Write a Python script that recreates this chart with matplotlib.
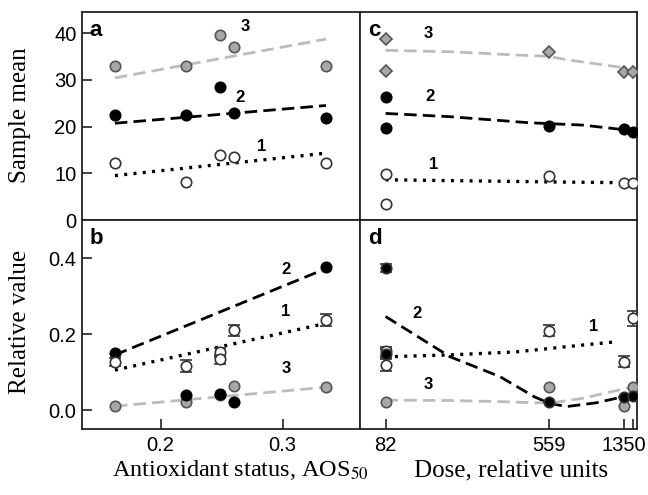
import matplotlib
matplotlib.use("Agg")
import matplotlib.pyplot as plt
from matplotlib.ticker import FixedLocator, NullLocator

# ---------------- data ----------------
aos = [0.1625, 0.2207, 0.2486, 0.260, 0.3355]
aos_fit = [0.1625, 0.3355]

# panel a (sample mean vs antioxidant status)
a_s3 = [33.0, 33.0, 39.6, 37.0, 33.0]
a_s2 = [22.5, 22.5, 28.5, 22.9, 21.8]
a_s1 = [12.1, 8.1, 13.8, 13.5, 12.1]
a_fit3 = [30.4, 38.7]
a_fit2 = [20.7, 24.5]
a_fit1 = [9.5, 14.3]

# panel b (relative value vs antioxidant status)
b_s2 = [0.149, 0.039, 0.041, 0.022, 0.377]
b_s1_x = [0.1625, 0.2207, 0.2486, 0.2486, 0.260, 0.3355]
b_s1 = [0.127, 0.116, 0.152, 0.133, 0.210, 0.237]
b_s1_err = [0.010, 0.015, 0.012, 0.012, 0.015, 0.015]
b_s3 = [0.011, 0.022, 0.040, 0.062, 0.060]
b_fit2 = [0.145, 0.372]
b_fit1 = [0.105, 0.228]
b_fit3 = [0.010, 0.060]

# panel c (sample mean vs dose)
dose_pts = [82, 82, 559, 1350, 1500]
c_s3 = [38.7, 31.8, 36.0, 31.6, 31.6]
c_s2 = [26.4, 19.6, 20.2, 19.4, 18.9]
c_s1 = [9.9, 3.4, 9.5, 7.9, 7.9]
c_curve3_dose = [82, 175, 382, 560, 687, 1016, 1390]
c_curve3 = [36.3, 36.0, 35.3, 35.0, 34.3, 33.3, 32.5]
c_curve2_dose = [82, 175, 446, 835, 1500]
c_curve2 = [22.8, 22.1, 20.8, 20.3, 19.1]
c_curve1_dose = [82, 300, 700, 1250]
c_curve1 = [8.6, 8.3, 8.1, 8.0]

# panel d (relative value vs dose)
d_s2 = [0.373, 0.148, 0.020, 0.035, 0.037]
d_s2_err = [0.010, 0.012, 0.0, 0.0, 0.0]
d_s1 = [0.155, 0.118, 0.209, 0.127, 0.241]
d_s1_err = [0.012, 0.015, 0.015, 0.015, 0.020]
d_s3_dose = [82, 559, 1350, 1500]
d_s3 = [0.022, 0.061, 0.011, 0.061]
d_curve2_dose = [82, 175, 314, 470, 559, 687, 978, 1237, 1445]
d_curve2 = [0.246, 0.140, 0.088, 0.035, 0.018, 0.009, 0.019, 0.031, 0.042]
d_curve1_dose = [82, 175, 382, 565, 835, 1262]
d_curve1 = [0.140, 0.145, 0.153, 0.162, 0.171, 0.180]
d_curve3_dose = [82, 175, 314, 565, 835, 1500]
d_curve3 = [0.026, 0.025, 0.022, 0.018, 0.031, 0.061]

dose_ticks = [82, 559, 1350, 1500]
dose_ticklabels = ["82", "559", "1350", ""]

# ---------------- style ----------------
SANS = "Liberation Sans"
SERIF = "Liberation Serif"
plt.rcParams["font.family"] = SANS

GRAY_LINE = "#bcbcbc"
GRAY_FILL = "#a8a8a8"
EDGE = "#333333"
DOT = (0, (0.9, 1.9))
DASH = (0, (4.5, 2.2))

W, H = 648, 495
fig = plt.figure(figsize=(W / 100, H / 100), dpi=100)


def px_axes(x0, y0, x1, y1):
    return fig.add_axes([x0 / W, 1 - y1 / H, (x1 - x0) / W, (y1 - y0) / H])


ax_a = px_axes(82, 12, 360, 220)
ax_b = px_axes(82, 220, 360, 429)
ax_c = px_axes(360, 12, 637, 220)
ax_d = px_axes(360, 220, 637, 429)

for ax in (ax_a, ax_b, ax_c, ax_d):
    for sp in ax.spines.values():
        sp.set_linewidth(1.3)
        sp.set_color("#222222")
    ax.tick_params(direction="in", length=7, width=1.2, labelsize=14.5,
                   color="#222222", pad=4)

mk = dict(ms=7.5, mew=1.2, linestyle="none", zorder=4)


def pts(ax, x, y, kind, marker="o", ms=7.5):
    kw = dict(mk)
    kw["ms"] = ms
    if kind == 1:
        ax.plot(x, y, marker=marker, mfc="white", mec=EDGE, **kw)
    elif kind == 2:
        ax.plot(x, y, marker=marker, mfc="black", mec="black", **kw)
    else:
        ax.plot(x, y, marker=marker, mfc=GRAY_FILL, mec="#555555", **kw)


def err(ax, x, y, e, fill):
    ax.errorbar(x, y, yerr=e, fmt="o", ms=7.5, mfc=fill, mec=EDGE, mew=1.2,
                ecolor=EDGE, elinewidth=1.2, capsize=4, capthick=1.5, zorder=4)


def lab(ax, x, y, s):
    ax.text(x, y, s, fontsize=12, fontweight="bold", ha="center", va="center")


# ---------- panel a ----------
ax_a.plot(aos_fit, a_fit3, color=GRAY_LINE, lw=2.0, ls=DASH, zorder=2)
ax_a.plot(aos_fit, a_fit2, color="black", lw=2.0, ls=DASH, zorder=2)
ax_a.plot(aos_fit, a_fit1, color="black", lw=2.4, ls=DOT, zorder=2)
pts(ax_a, aos, a_s3, 3)
pts(ax_a, aos, a_s2, 2)
pts(ax_a, aos, a_s1, 1)
ax_a.set_xlim(0.1355, 0.3634)
ax_a.set_ylim(0, 44.5)
ax_a.yaxis.set_major_locator(FixedLocator([0, 10, 20, 30, 40]))
ax_a.xaxis.set_major_locator(NullLocator())
lab(ax_a, 0.269, 41.3, "3")
lab(ax_a, 0.265, 26.3, "2")
lab(ax_a, 0.283, 15.7, "1")

# ---------- panel b ----------
ax_b.plot(aos_fit, b_fit2, color="black", lw=2.0, ls=DASH, zorder=2)
ax_b.plot(aos_fit, b_fit1, color="black", lw=2.4, ls=DOT, zorder=2)
ax_b.plot(aos_fit, b_fit3, color=GRAY_LINE, lw=2.0, ls=DASH, zorder=2)
pts(ax_b, aos, b_s3, 3)
pts(ax_b, aos, b_s2, 2)
err(ax_b, b_s1_x, b_s1, b_s1_err, "white")
ax_b.set_xlim(0.1355, 0.3634)
ax_b.set_ylim(-0.05, 0.5)
ax_b.yaxis.set_major_locator(FixedLocator([0.0, 0.2, 0.4]))
ax_b.set_yticklabels(["0.0", "0.2", "0.4"])
ax_b.xaxis.set_major_locator(FixedLocator([0.2, 0.3]))
ax_b.set_xticklabels(["0.2", "0.3"])
ax_b.tick_params(axis="x", pad=5)
lab(ax_b, 0.3027, 0.37, "2")
lab(ax_b, 0.3027, 0.259, "1")
lab(ax_b, 0.3027, 0.11, "3")

# ---------- panel c ----------
ax_c.set_xscale("log")
ax_c.plot(c_curve3_dose, c_curve3, color=GRAY_LINE, lw=2.0, ls=DASH, zorder=2)
ax_c.plot(c_curve2_dose, c_curve2, color="black", lw=2.0, ls=DASH, zorder=2)
ax_c.plot(c_curve1_dose, c_curve1, color="black", lw=2.4, ls=DOT, zorder=2)
pts(ax_c, dose_pts, c_s3, 3, "D", ms=6)
pts(ax_c, dose_pts, c_s2, 2)
pts(ax_c, dose_pts, c_s1, 1)
ax_c.set_xlim(60.7, 1574)
ax_c.set_ylim(0, 44.5)
ax_c.xaxis.set_major_locator(NullLocator())
ax_c.xaxis.set_minor_locator(NullLocator())
ax_c.yaxis.set_major_locator(NullLocator())
lab(ax_c, 135, 40.0, "3")
lab(ax_c, 138, 26.4, "2")
lab(ax_c, 144, 11.8, "1")

# ---------- panel d ----------
ax_d.set_xscale("log")
ax_d.plot(d_curve2_dose, d_curve2, color="black", lw=2.0, ls=DASH, zorder=2)
ax_d.plot(d_curve1_dose, d_curve1, color="black", lw=2.4, ls=DOT, zorder=2)
ax_d.plot(d_curve3_dose, d_curve3, color=GRAY_LINE, lw=2.0, ls=DASH, zorder=2)
pts(ax_d, d_s3_dose, d_s3, 3)
err(ax_d, dose_pts, d_s1, d_s1_err, "white")
err(ax_d, dose_pts, d_s2, d_s2_err, "black")
ax_d.set_xlim(60.7, 1574)
ax_d.set_ylim(-0.05, 0.5)
ax_d.xaxis.set_major_locator(FixedLocator(dose_ticks))
ax_d.xaxis.set_minor_locator(NullLocator())
ax_d.set_xticklabels(dose_ticklabels)
ax_d.tick_params(axis="x", pad=5)
ax_d.yaxis.set_major_locator(NullLocator())
lab(ax_d, 118, 0.254, "2")
lab(ax_d, 940, 0.219, "1")
lab(ax_d, 135, 0.066, "3")

# panel letters
for ax, s in ((ax_a, "a"), (ax_b, "b"), (ax_c, "c"), (ax_d, "d")):
    ax.text(0.028, 0.96, s, transform=ax.transAxes, fontsize=16,
            fontweight="bold", ha="left", va="top")

# axis labels
fig.text(20 / W, 1 - 115 / H, "Sample mean", rotation=90, family=SERIF,
         fontsize=18, ha="center", va="center")
fig.text(20 / W, 1 - 322 / H, "Relative value", rotation=90, family=SERIF,
         fontsize=18, ha="center", va="center")
fig.text(240 / W, 1 - 470 / H, "Antioxidant status, AOS$_{50}$", family=SERIF,
         fontsize=17.5, ha="center", va="center", math_fontfamily="stix")
fig.text(511 / W, 1 - 470 / H, "Dose, relative units", family=SERIF,
         fontsize=18, ha="center", va="center")

fig.savefig("out.png", dpi=100)
